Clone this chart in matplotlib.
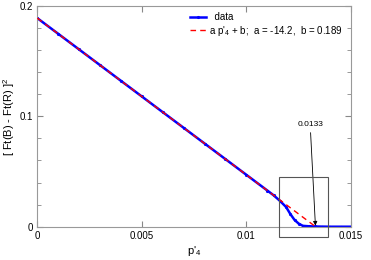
import numpy as np
import matplotlib
matplotlib.use("Agg")
import matplotlib.pyplot as plt
from matplotlib.patches import Rectangle
from matplotlib.ticker import MultipleLocator

plt.rcParams['font.family'] = ['Liberation Sans', 'DejaVu Sans']
plt.rcParams['mathtext.fontset'] = 'custom'
plt.rcParams['mathtext.rm'] = 'Liberation Sans'
plt.rcParams['mathtext.it'] = 'Liberation Sans'

p4 = [0.0, 0.001, 0.002, 0.003, 0.004, 0.005, 0.006, 0.007, 0.008, 0.009,
      0.010, 0.011, 0.0113, 0.0116, 0.0119, 0.0121, 0.0123, 0.0125, 0.0127,
      0.0130, 0.0133, 0.0136, 0.0140, 0.0145, 0.0150]
dF2 = [0.189, 0.1748, 0.1606, 0.1464, 0.1322, 0.118, 0.1038, 0.0896, 0.0754,
       0.0612, 0.047, 0.0328, 0.0285, 0.0235, 0.0178, 0.0115, 0.0062, 0.0028,
       0.0008, 0.0004, 0.0002, 0.0001, 0.0, 0.0, 0.0]

# linear fit a*p'4 + b
a_fit = -14.2
b_fit = 0.189
fit_x = np.array([0.0, 0.0133])
zero_cross = 0.0133

fig = plt.figure(figsize=(3.71, 2.60), dpi=100)
ax = fig.add_axes([0.1005, 0.128, 0.8455, 0.849])

ax.plot(p4, dF2, color='blue', lw=1.8, marker='.', ms=2.5, label='  data', zorder=2)
ax.plot(fit_x, a_fit * fit_x + b_fit, color='red', ls=(0, (4, 3)), lw=1.0,
        label="a p'$_4$ + b;  a = -14.2,  b = 0.189", zorder=3)

# zoom box around the kink
ax.add_patch(Rectangle((0.01158, -0.0096), 0.00234, 0.0544, fill=False,
                       ec='#555555', lw=0.8, clip_on=False, zorder=4))

ax.annotate('0.0133', xy=(zero_cross, 0.001), xytext=(0.01305, 0.089),
            fontsize=6, ha='center', va='bottom',
            arrowprops=dict(arrowstyle='-|>', color='black', lw=0.6,
                            mutation_scale=6, shrinkA=1, shrinkB=0))

ax.set_xlim(0, 0.015)
ax.set_ylim(0, 0.2)
ax.set_xticks([0, 0.005, 0.01, 0.015])
ax.set_xticklabels(['0', '0.005', '0.01', '0.015'])
ax.set_yticks([0, 0.1, 0.2])
ax.set_yticklabels(['0', '0.1', '0.2'])
ax.yaxis.set_minor_locator(MultipleLocator(0.02))
ax.tick_params(which='both', direction='in', top=True, right=True,
               colors='#888888', labelcolor='black', labelsize=7, pad=3)
ax.tick_params(which='major', length=4)
ax.tick_params(which='minor', length=3)
for s in ax.spines.values():
    s.set_color('#999999')
    s.set_linewidth(0.8)

ax.set_xlabel("p'$_4$", fontsize=8, labelpad=2)
ax.set_ylabel("[ Ft(B) - Ft(R) ]$^2$", fontsize=8, labelpad=2)

ax.legend(loc='upper left', bbox_to_anchor=(0.5, 0.972), bbox_transform=fig.transFigure,
          frameon=False, fontsize=7, handlelength=1.6, handletextpad=0.3,
          labelspacing=0.15, borderpad=0)

fig.savefig('out.png', dpi=100)
